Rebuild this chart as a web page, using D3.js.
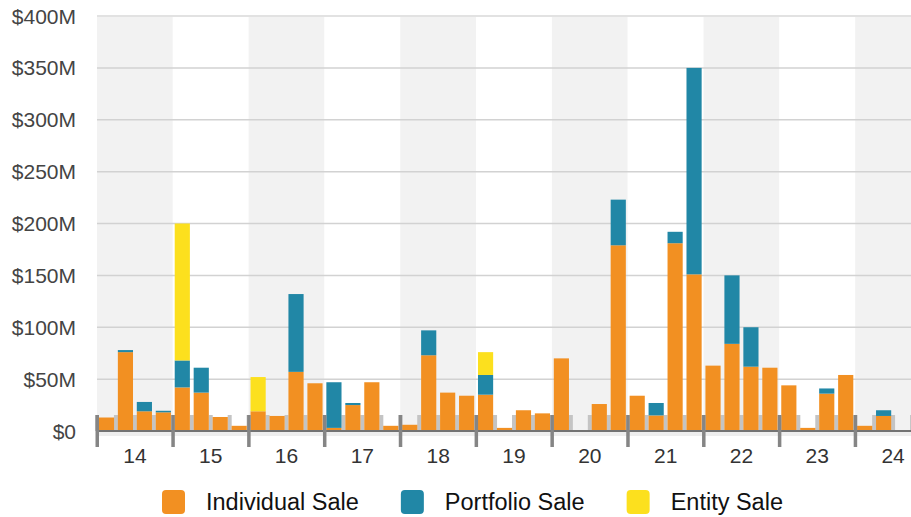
<!DOCTYPE html>
<html>
<head>
<meta charset="utf-8">
<script src="https://cdn.jsdelivr.net/npm/d3@7"></script>
<style>
  body { margin: 0; background: #fff; }
  svg { display: block; font-family: "Liberation Sans", Arial, Helvetica, sans-serif; }
</style>
</head>
<body>
<svg id="chart" width="911" height="517"></svg>
<script>
// quarterly sale volume, $M
var years = ['14', '15', '16', '17', '18', '19', '20', '21', '22', '23', '24'];
var quarters = [];
years.forEach(function(y) { [1, 2, 3, 4].forEach(function(q) { quarters.push(y + 'Q' + q); }); });

var individual = [13, 76, 19, 18,  42, 37, 13.5, 5,  19, 14.5, 57, 46,  3, 25, 47, 5,
                  6, 73, 37, 34,  35, 3, 20, 17,  70, 0, 26, 179,  34, 15, 181, 151,
                  63, 84, 62, 61,  44, 3, 36, 54,  5, 14.5, 0, 0];
var portfolio  = [0, 2, 9, 1.5,  26, 24, 0, 0,  0, 0, 75, 0,  44, 2, 0, 0,
                  0, 24, 0, 0,  19, 0, 0, 0,  0, 0, 0, 44,  0, 12, 11, 199,
                  0, 66, 38, 0,  0, 0, 5, 0,  0, 5.5, 0, 0];
var entity     = [0, 0, 0, 0,  132, 0, 0, 0,  33, 0, 0, 0,  0, 0, 0, 0,
                  0, 0, 0, 0,  22, 0, 0, 0,  0, 0, 0, 0,  0, 0, 0, 0,
                  0, 0, 0, 0,  0, 0, 0, 0,  0, 0, 0, 0];
var seriesNames = ['Individual Sale', 'Portfolio Sale', 'Entity Sale'];
var colors = ['#f29022', '#2187a6', '#fce01e'];
var yTicks = [0, 50, 100, 150, 200, 250, 300, 350, 400];

var rows = quarters.map(function(q, i) {
    return { q: q, 'Individual Sale': individual[i], 'Portfolio Sale': portfolio[i], 'Entity Sale': entity[i] };
});

var svg = d3.select('#chart');
var plotLeft = 97, plotRight = 931, plotTop = 16, plotBottom = 431;

var x = d3.scaleBand().domain(quarters).range([plotLeft, plotRight]).paddingInner(0.2).paddingOuter(0.1);
var xYear = d3.scaleBand().domain(years).range([plotLeft, plotRight]);
var y = d3.scaleLinear().domain([0, 400]).range([plotBottom, plotTop]);

// alternating year bands
svg.append('g').selectAll('rect').data(years).enter().append('rect')
    .attr('x', function(d) { return xYear(d); })
    .attr('y', plotTop)
    .attr('width', xYear.bandwidth())
    .attr('height', plotBottom - plotTop)
    .attr('fill', function(d, i) { return i % 2 ? '#ffffff' : '#f2f2f2'; });

// strip under baseline
svg.append('rect').attr('x', plotLeft).attr('y', plotBottom + 1).attr('width', 911 - plotLeft).attr('height', 4).attr('fill', '#eeeeee');

// gridlines
svg.append('g').selectAll('line').data(yTicks.slice(1)).enter().append('line')
    .attr('x1', plotLeft).attr('x2', 911)
    .attr('y1', function(d) { return y(d); }).attr('y2', function(d) { return y(d); })
    .attr('stroke', function(d) { return d === 400 ? '#e2e2e2' : '#d2d2d2'; })
    .attr('stroke-width', function(d) { return d === 400 ? 2 : 1.5; });

// y labels
svg.append('g').selectAll('text').data(yTicks).enter().append('text')
    .attr('x', 76)
    .attr('y', function(d) { return y(d); })
    .attr('dy', '0.36em')
    .attr('text-anchor', 'end')
    .attr('font-size', 21)
    .attr('fill', '#444')
    .text(function(d) { return '$' + d + (d ? 'M' : ''); });

// minor ticks at quarter boundaries
var step = x.step();
svg.append('g').selectAll('rect').data(quarters).enter().append('rect')
    .attr('x', function(d) { return x(d) - step * 0.1 - 2; })
    .attr('y', plotBottom - 16)
    .attr('width', 4)
    .attr('height', 16)
    .attr('fill', '#c4c4c4');

// stacked bars
var stack = d3.stack().keys(seriesNames);
var layers = stack(rows);
svg.append('g').selectAll('g').data(layers).enter().append('g')
    .attr('fill', function(d, i) { return colors[i]; })
    .selectAll('rect').data(function(d) { return d; }).enter().append('rect')
    .attr('x', function(d) { return x(d.data.q); })
    .attr('width', x.bandwidth())
    .attr('y', function(d) { return y(d[1]); })
    .attr('height', function(d) { return y(d[0]) - y(d[1]); });

// baseline
svg.append('line').attr('x1', plotLeft).attr('x2', 911).attr('y1', plotBottom).attr('y2', plotBottom)
    .attr('stroke', '#737373').attr('stroke-width', 2);

// major ticks at year boundaries
svg.append('g').selectAll('rect').data(years).enter().append('rect')
    .attr('x', function(d) { return xYear(d) - 1.5; })
    .attr('y', plotBottom - 16)
    .attr('width', 3.5)
    .attr('height', 32)
    .attr('fill', '#858585');

// year labels
var xAxis = d3.axisBottom(xYear).tickSize(0).tickPadding(0);
var gx = svg.append('g').attr('transform', 'translate(0,' + plotBottom + ')').call(xAxis);
gx.select('.domain').remove();
gx.selectAll('text')
    .attr('y', 32)
    .attr('dy', 0)
    .attr('font-size', 21)
    .attr('font-family', '"Liberation Sans", Arial, sans-serif')
    .attr('fill', '#333');

// legend
var legend = svg.append('g').attr('transform', 'translate(162,490)');
var lx = 0;
seriesNames.forEach(function(name, i) {
    var g = legend.append('g').attr('transform', 'translate(' + lx + ',0)');
    g.append('rect').attr('width', 23).attr('height', 24).attr('rx', 4).attr('fill', colors[i]);
    var t = g.append('text').attr('x', 44).attr('y', 20).attr('font-size', 23.5).attr('fill', '#111').text(name);
    lx += 44 + t.node().getComputedTextLength() + 42;
});
</script>
</body>
</html>
